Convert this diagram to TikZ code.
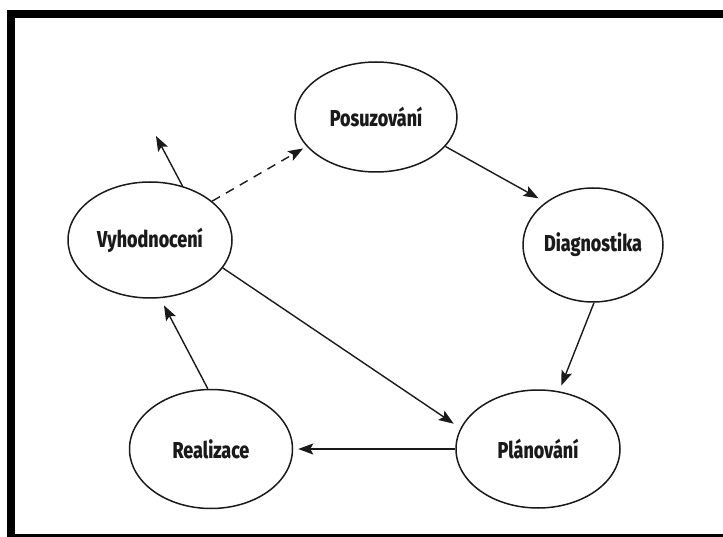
\documentclass[tikz,border=0pt]{standalone}
\usepackage{fontspec}
\setmainfont[FakeStretch=0.78, BoldFont={Fira Sans ExtraBold}, BoldFeatures={FakeStretch=0.78}]{Fira Sans}
\usetikzlibrary{shapes.geometric,arrows.meta}
\definecolor{ink}{HTML}{1A1A1A}
\tikzset{
  stage/.style={ellipse, draw=ink, line width=1.5pt, inner sep=0pt,
    font=\fontsize{23}{25}\selectfont\bfseries, text=ink},
  link/.style={draw=ink, line width=1.4pt,
    -{Stealth[length=15pt,width=11pt,inset=3pt]}},
}
\begin{document}
\begin{tikzpicture}[x=1pt,y=-1pt]
\useasboundingbox (0,0) rectangle (723,537);
\clip (0,0) rectangle (723,537);
\fill[white] (0,0) rectangle (723,537);
\draw[line width=8pt] (11,14) rectangle (735,538);

\node[stage, minimum width=162pt, minimum height=110pt] (pos) at (376,117) {Posuzování};
\node[stage, minimum width=140pt, minimum height=114pt] (dia) at (593,245) {Diagnostika};
\node[stage, minimum width=164pt, minimum height=116pt] (vyh) at (150,240) {Vyhodnocení};
\node[stage, minimum width=163pt, minimum height=119pt] (rea) at (211,449) {Realizace};
\node[stage, minimum width=164pt, minimum height=118pt] (pla) at (538,449) {Plánování};
\coordinate (out) at (156,136);

\draw[link, shorten >=8pt] (pos.-23) -- (dia.138);
\draw[link, shorten >=6pt] (dia.-89) -- (pla.70);
\draw[link, shorten >=5pt] (pla.west) -- (rea.east);
\draw[link, shorten >=8pt] (rea.93) -- (vyh.-80);
\draw[link, shorten >=8pt] (vyh.-21) -- (pla.165);
\draw[link, dashed, dash pattern=on 9pt off 7pt, shorten >=4pt] (vyh.32) -- (pos.203);
\draw[link] (vyh.59.5) -- (out);
\end{tikzpicture}
\end{document}
